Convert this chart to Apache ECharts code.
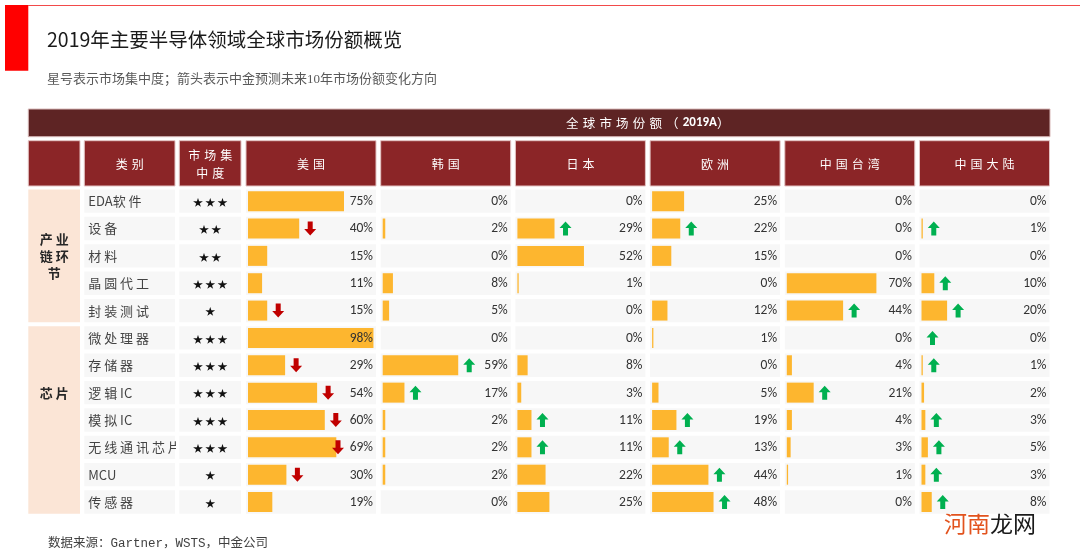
<!DOCTYPE html>
<html>
<head>
<meta charset="utf-8">
<script src="https://cdn.jsdelivr.net/npm/echarts@6/dist/echarts.min.js"></script>
<style>
html, body { margin: 0; padding: 0; background: #fff; }
#chart { width: 1080px; height: 558px; }
</style>
</head>
<body>
<div id="chart"></div>
<script>
// rows of the table
const categories = ['EDA软件', '设备', '材料', '晶圆代工', '封装测试', '微处理器', '存储器', '逻辑IC', '模拟IC', '无线通讯芯片', 'MCU', '传感器']
const concentration = [3, 2, 2, 3, 1, 3, 3, 3, 3, 3, 1, 1]
const groupNames = ['产业链环节', '芯片']
const groupRows = [[0, 4], [5, 11]]

const headers = ['', '类别', '市场集中度', '美国', '韩国', '日本', '欧洲', '中国台湾', '中国大陆']

// global market share 2019A, %
const usShare = [75, 40, 15, 11, 15, 98, 29, 54, 60, 69, 30, 19]
const krShare = [0, 2, 0, 8, 5, 0, 59, 17, 2, 2, 2, 0]
const jpShare = [0, 29, 52, 1, 0, 0, 8, 3, 11, 11, 22, 25]
const euShare = [25, 22, 15, 0, 12, 1, 0, 5, 19, 13, 44, 48]
const twShare = [0, 0, 0, 70, 44, 0, 4, 21, 4, 3, 1, 0]
const cnShare = [0, 1, 0, 10, 20, 0, 1, 2, 3, 5, 3, 8]

// forecast direction over next 10 years: 1 up, -1 down, 0 none
const usTrend = [0, -1, 0, 0, -1, 0, -1, -1, -1, -1, -1, 0]
const krTrend = [0, 0, 0, 0, 0, 0, 1, 1, 0, 0, 0, 0]
const jpTrend = [0, 1, 0, 0, 0, 0, 0, 0, 1, 1, 0, 0]
const euTrend = [0, 1, 0, 0, 0, 0, 0, 0, 1, 1, 1, 1]
const twTrend = [0, 0, 0, 0, 1, 0, 0, 1, 0, 0, 0, 0]
const cnTrend = [0, 1, 0, 1, 1, 1, 1, 0, 1, 1, 1, 1]

const shares = [usShare, krShare, jpShare, euShare, twShare, cnShare]
const trends = [usTrend, krTrend, jpTrend, euTrend, twTrend, cnTrend]

// layout
const TOP = 187.5
const ROW_H = 27.35
const CELL_GAP = 4
const CJK = '"Noto Sans CJK SC", sans-serif'
const NUM_FONT = 'Carlito, Lato, "Noto Sans", sans-serif'
const textCols = [
    { x: 28.3, w: 51.7 },
    { x: 84.3, w: 90.7 },
    { x: 179.3, w: 61.7 }
]
const colX = [246, 380.7, 515.4, 650.1, 784.8, 919.5]
const COL_W = 130
const PAD = 2
const PX_PER_PCT = 1.28
const groupLabelRow = [2, 7]

const BAR_COLOR = '#FDB62F'
const CELL_BG = '#f7f7f7'

function spaced(s, sp) {
    return s.replace(/([\u4e00-\u9fa5])(?=.)/g, '$1' + sp)
}

const grids = []
const xAxes = []
const yAxes = []
const series = []

textCols.forEach((c, i) => {
    grids.push({ left: c.x, top: TOP, width: c.w, height: ROW_H * categories.length })
    xAxes.push({ gridIndex: i, type: 'value', min: 0, max: 1, show: false })
    yAxes.push({ gridIndex: i, type: 'category', data: categories, inverse: true, show: false })
})
colX.forEach((x, k) => {
    const i = textCols.length + k
    grids.push({ left: x, top: TOP, width: COL_W, height: ROW_H * categories.length })
    xAxes.push({ gridIndex: i, type: 'value', min: -PAD / PX_PER_PCT, max: (COL_W - PAD) / PX_PER_PCT, show: false })
    yAxes.push({ gridIndex: i, type: 'category', data: categories, inverse: true, show: false })
})

function cellRect(params, api, row) {
    const cs = params.coordSys
    const cy = api.coord([0, row])[1]
    const h = api.size([0, 1])[1] - CELL_GAP
    return { type: 'rect', shape: { x: cs.x, y: cy - h / 2, width: cs.width, height: h }, style: { fill: CELL_BG } }
}

// group column
series.push({
    type: 'custom',
    xAxisIndex: 0, yAxisIndex: 0,
    silent: true,
    data: groupRows.map((r, i) => [0, r[0], r[1], i]),
    encode: { x: 0, y: 1 },
    renderItem: (params, api) => {
        const cs = params.coordSys
        const gi = params.dataIndex
        const band = api.size([0, 1])[1]
        const y0 = api.coord([0, groupRows[gi][0]])[1] - band / 2 + CELL_GAP / 2
        const y1 = api.coord([0, groupRows[gi][1]])[1] + band / 2 - CELL_GAP / 2
        const ly = api.coord([0, groupLabelRow[gi]])[1]
        const name = groupNames[gi]
        const lines = []
        for (let j = 0; j < name.length; j += 2) lines.push(name.slice(j, j + 2).split('').join(' '))
        return {
            type: 'group',
            children: [
                { type: 'rect', shape: { x: cs.x, y: y0, width: cs.width, height: y1 - y0 }, style: { fill: '#FBE5D6' } },
                { type: 'text', x: cs.x + cs.width / 2, y: ly, style: { text: lines.join('\n'), fill: '#262626', font: 'bold 13px ' + CJK, align: 'center', verticalAlign: 'middle', lineHeight: 17 } }
            ]
        }
    }
})

// category column
series.push({
    type: 'custom',
    xAxisIndex: 1, yAxisIndex: 1,
    silent: true,
    clip: true,
    data: categories.map((c, i) => [0, i]),
    encode: { x: 0, y: 1 },
    renderItem: (params, api) => {
        const row = params.dataIndex
        const cy = api.coord([0, row])[1]
        return {
            type: 'group',
            children: [
                cellRect(params, api, row),
                { type: 'text', x: params.coordSys.x + 4, y: cy, style: { text: spaced(categories[row], ' '), fill: '#444', font: '13px ' + CJK, align: 'left', verticalAlign: 'middle' } }
            ]
        }
    }
})

// concentration column
series.push({
    type: 'custom',
    xAxisIndex: 2, yAxisIndex: 2,
    silent: true,
    data: concentration.map((n, i) => [0, i]),
    encode: { x: 0, y: 1 },
    renderItem: (params, api) => {
        const row = params.dataIndex
        const cs = params.coordSys
        const cy = api.coord([0, row])[1]
        const stars = new Array(concentration[row]).fill('★').join(' ')
        return {
            type: 'group',
            children: [
                cellRect(params, api, row),
                { type: 'text', x: cs.x + cs.width / 2, y: cy + 1, style: { text: stars, fill: '#111', font: '10px ' + CJK, align: 'center', verticalAlign: 'middle' } }
            ]
        }
    }
})

function arrowPoints(x, y, dir) {
    // tip is up for dir = 1
    const pts = [[0, -7], [6, -0.5], [2.5, -0.5], [2.5, 7], [-2.5, 7], [-2.5, -0.5], [-6, -0.5]]
    return pts.map(p => [x + p[0], y + p[1] * dir])
}

shares.forEach((share, k) => {
    const gi = textCols.length + k
    const trend = trends[k]
    series.push({
        type: 'custom',
        xAxisIndex: gi, yAxisIndex: gi,
        silent: true,
        z: 1,
        data: share.map((v, i) => [0, i]),
        encode: { x: 0, y: 1 },
        renderItem: (params, api) => cellRect(params, api, params.dataIndex)
    })
    series.push({
        type: 'bar',
        name: headers[gi],
        xAxisIndex: gi, yAxisIndex: gi,
        silent: true,
        z: 2,
        barWidth: 20,
        itemStyle: { color: BAR_COLOR },
        data: share
    })
    series.push({
        type: 'custom',
        xAxisIndex: gi, yAxisIndex: gi,
        silent: true,
        z: 3,
        data: share.map((v, i) => [v, i, trend[i]]),
        encode: { x: 0, y: 1 },
        renderItem: (params, api) => {
            const cs = params.coordSys
            const v = api.value(0)
            const row = params.dataIndex
            const end = api.coord([v, row])
            const dir = trend[row]
            const children = [
                { type: 'text', x: cs.x + cs.width - 3, y: end[1] + 0.5, style: { text: v + '%', fill: '#333', font: '13.5px ' + NUM_FONT, align: 'right', verticalAlign: 'middle' } }
            ]
            if (dir !== 0) {
                // keep the arrow clear of the value label
                const ax = Math.min(end[0] + 11, cs.x + cs.width - 38)
                children.push({
                    type: 'polygon',
                    shape: { points: arrowPoints(ax, end[1], dir) },
                    style: { fill: dir > 0 ? '#00B050' : '#C00000' }
                })
            }
            return { type: 'group', children: children }
        }
    })
})

// header row + decorations
const graphic = [
    { type: 'rect', shape: { x: 5, y: 5, width: 23.3, height: 65.7 }, style: { fill: '#FF0000' } },
    { type: 'line', shape: { x1: 28, y1: 5.5, x2: 1080, y2: 5.5 }, style: { stroke: '#F24A4A', lineWidth: 1 } },
    { type: 'text', x: 47, y: 40, style: { text: '2019年主要半导体领域全球市场份额概览', fill: '#1a1a1a', font: '19.5px ' + CJK, verticalAlign: 'middle' } },
    { type: 'text', x: 47, y: 80, style: { text: '星号表示市场集中度；箭头表示中金预测未来10年市场份额变化方向', fill: '#595959', font: '13px "Liberation Serif", ' + CJK, verticalAlign: 'middle' } },
    { type: 'rect', shape: { x: 28.3, y: 109, width: 1021.7, height: 27.7 }, style: { fill: '#5E2424', stroke: '#d8b8b8', lineWidth: 1 } },
    {
        type: 'text', x: (colX[0] + colX[5] + COL_W) / 2, y: 123,
        style: {
            text: '{a|全\u2004球\u2004市\u2004场\u2004份\u2004额\u2004（\u2004}{b|2019A}{a|）}',
            align: 'center', verticalAlign: 'middle',
            rich: {
                a: { fill: '#fff', fontSize: 12.5, fontFamily: CJK },
                b: { fill: '#fff', fontSize: 13, fontWeight: 'bold', fontFamily: NUM_FONT }
            }
        }
    },
    { type: 'text', x: 48, y: 544, style: { text: '数据来源：Gartner，WSTS，中金公司', fill: '#404040', font: '12.5px "Liberation Mono", ' + CJK, verticalAlign: 'middle' } },
    {
        type: 'text', x: 944, y: 523,
        style: {
            text: '{a|河南}{b|龙网}', verticalAlign: 'middle',
            rich: {
                a: { fill: '#E2531E', fontSize: 23, fontFamily: CJK },
                b: { fill: '#1a1a1a', fontSize: 23, fontFamily: CJK }
            }
        }
    }
]

const headerCells = textCols.map(c => ({ x: c.x, w: c.w })).concat(colX.map(x => ({ x: x, w: COL_W })))
headerCells.forEach((c, i) => {
    graphic.push({ type: 'rect', shape: { x: c.x, y: 140.7, width: c.w, height: 45.3 }, style: { fill: '#8B2527', stroke: '#e3c3c3', lineWidth: 1 } })
    const name = headers[i]
    if (!name) return
    const lines = name.length > 4 ? [name.slice(0, 3), name.slice(3)] : [name]
    graphic.push({
        type: 'text', x: c.x + c.w / 2, y: 164,
        style: {
            text: lines.map(l => l.split('').join('\u2004')).join('\n'),
            fill: '#fff', font: '12px ' + CJK, align: 'center', verticalAlign: 'middle', lineHeight: 18
        }
    })
})

const chart = echarts.init(document.getElementById('chart'))
chart.setOption({
    animation: false,
    backgroundColor: '#fff',
    grid: grids,
    xAxis: xAxes,
    yAxis: yAxes,
    series: series,
    graphic: graphic
})
</script>
</body>
</html>
